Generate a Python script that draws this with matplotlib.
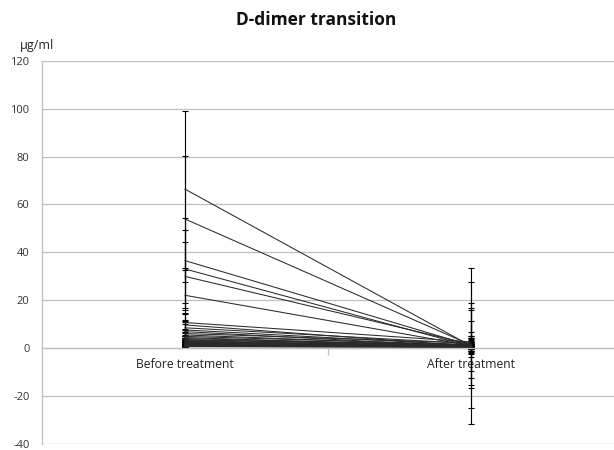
import matplotlib
matplotlib.use("Agg")
import matplotlib.pyplot as plt
import numpy as np

plt.rcParams['font.family'] = ['Open Sans', 'DejaVu Sans']

categories = ["Before treatment", "After treatment"]
before = [66.4, 53.9, 36.5, 33.0, 29.9, 22.0, 10.6, 9.6, 8.4, 7.5, 6.8, 6.0,
          5.4, 4.8, 4.3, 3.9, 3.5, 3.2, 2.9, 2.7, 2.5, 2.3, 2.1, 1.9, 1.8,
          1.7, 1.6, 1.5, 1.4, 1.3, 1.2, 1.1, 1.0, 0.9, 0.8, 0.7, 0.6, 0.5]
after = [0.8, 1.2, 1.0, 0.6, 1.5, 0.9, 2.5, 0.7, 1.8, 1.1, 0.5, 2.0,
         0.9, 1.3, 0.6, 1.0, 0.8, 1.4, 0.7, 0.5, 1.2, 0.9, 0.6, 1.0, 0.8,
         0.5, 0.7, 0.9, 0.6, 0.4, 0.8, 0.5, 0.6, 0.4, 0.5, 0.3, 0.4, 0.3]
yticks = [-40, -20, 0, 20, 40, 60, 80, 100, 120]

fig = plt.figure(figsize=(6.14, 4.5), dpi=100)
ax = fig.add_axes([42/614, 6.5/450, 572/614, 382.5/450])

x = np.arange(len(categories))
for b, a in zip(before, after):
    se = abs(b - a) / 2.0
    ax.errorbar(x, [b, a], yerr=[se, se], color='#2a2a2a', lw=0.75,
                ecolor='black', elinewidth=0.8, capsize=2.5, capthick=0.8)

ax.set_xlim(-0.5, 1.5)
ax.set_ylim(-40, 120)
ax.set_yticks(yticks)
ax.set_yticklabels([str(v) for v in yticks], fontsize=8, color='#333333')
ax.yaxis.grid(True, color='#BFBFBF', lw=0.9)
ax.set_axisbelow(True)
ax.tick_params(axis='y', length=0, pad=9)

for s in ['top', 'right']:
    ax.spines[s].set_visible(False)
ax.spines['left'].set_color('#BFBFBF')
ax.spines['left'].set_linewidth(0.9)
ax.spines['bottom'].set_position(('data', 0))
ax.spines['bottom'].set_color('#BFBFBF')
ax.spines['bottom'].set_linewidth(0.9)

ax.set_xticks(x)
ax.set_xticklabels(categories, fontsize=8.7, color='#222222')
ax.tick_params(axis='x', length=0, pad=7)
ax.set_xticks([0.5], minor=True)
ax.tick_params(axis='x', which='minor', length=5, color='#BFBFBF', width=0.9)

fig.text(316/614, 1 - 20/450, "D-dimer transition", ha='center', va='center',
         fontsize=12.5, fontweight='bold', color='#111111')
fig.text(37/614, 1 - 46/450, "µg/ml", ha='center', va='center',
         fontsize=9, color='#222222')

fig.savefig("out.png", dpi=100)
